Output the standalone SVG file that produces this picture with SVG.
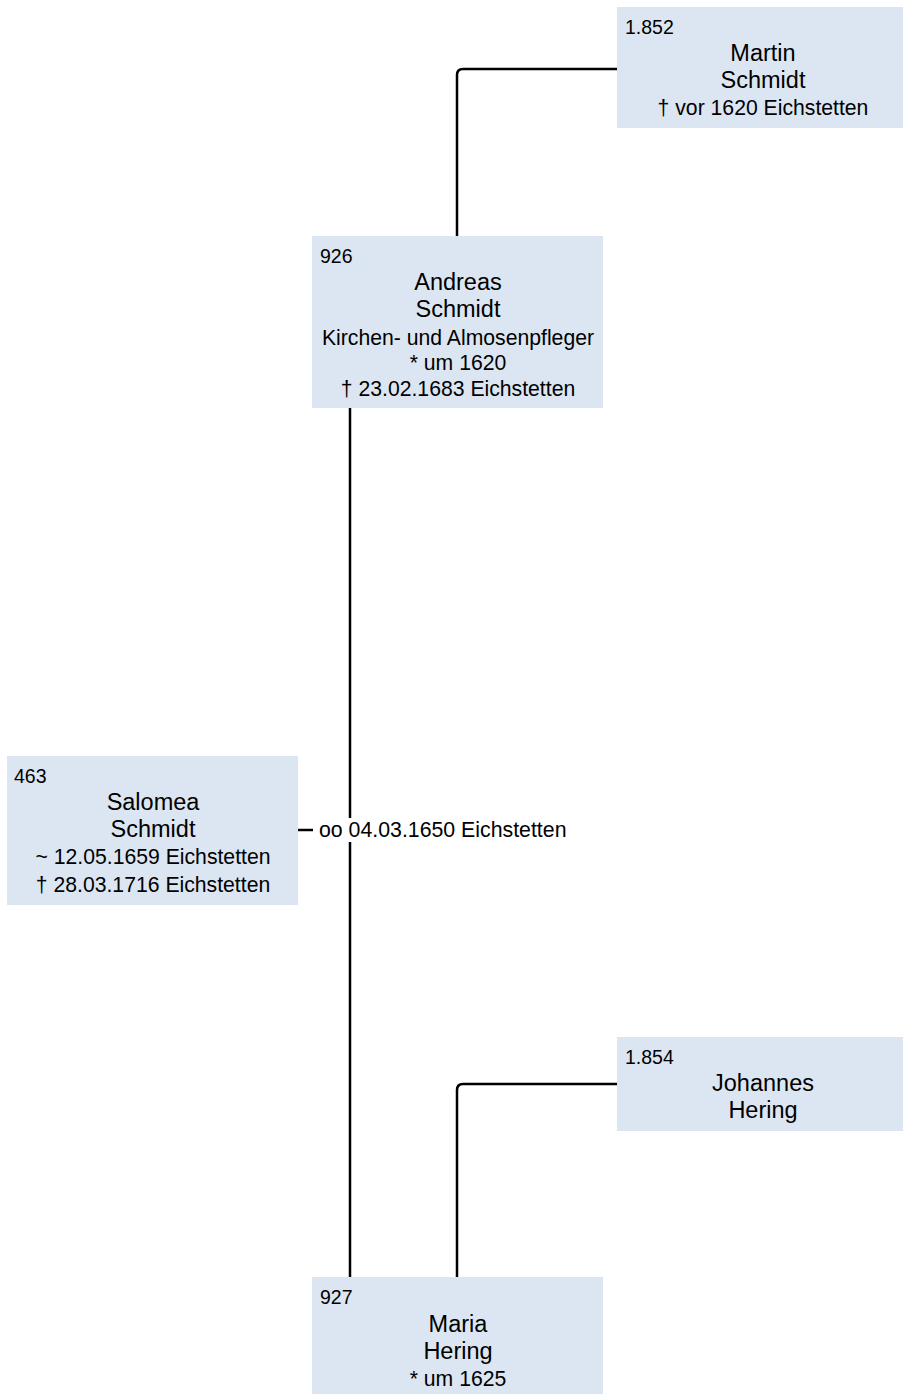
<svg xmlns="http://www.w3.org/2000/svg" width="903" height="1394" viewBox="0 0 903 1394">
<style>
.box{fill:#dce6f2;}
.num{font-family:"Liberation Sans",Arial,sans-serif;font-size:19.5px;fill:#000;}
.name{font-family:"Liberation Sans",Arial,sans-serif;font-size:23.5px;fill:#000;text-anchor:middle;}
.det{font-family:"Liberation Sans",Arial,sans-serif;font-size:21.2px;fill:#000;text-anchor:middle;}
.lbl{font-family:"Liberation Sans",Arial,sans-serif;font-size:21.3px;fill:#000;}
.con{fill:none;stroke:#000;stroke-width:2.5;}
</style>
<rect width="903" height="1394" fill="#fff"/>
<g id="connectors">
<path class="con" d="M617,69 H463 Q457,69 457,75 V236"/>
<path class="con" d="M350,408 V818"/>
<path class="con" d="M350,842 V1277"/>
<path class="con" d="M298,830 H313"/>
<path class="con" d="M617,1084 H463 Q457,1084 457,1090 V1277"/>
<text class="lbl" x="319" y="837">oo 04.03.1650 Eichstetten</text>
</g>
<g id="n1852">
<rect class="box" x="617" y="7" width="292" height="121"/>
<text class="num" x="625" y="34">1.852</text>
<text class="name" x="763" y="61">Martin</text>
<text class="name" x="763" y="88">Schmidt</text>
<text class="det" x="763" y="115">† vor 1620 Eichstetten</text>
</g>
<g id="n926">
<rect class="box" x="312" y="236" width="291" height="172"/>
<text class="num" x="320" y="263">926</text>
<text class="name" x="458" y="290">Andreas</text>
<text class="name" x="458" y="317">Schmidt</text>
<text class="det" x="458" y="345">Kirchen- und Almosenpfleger</text>
<text class="det" x="458" y="370">* um 1620</text>
<text class="det" x="458" y="396">† 23.02.1683 Eichstetten</text>
</g>
<g id="n463">
<rect class="box" x="7" y="756" width="291" height="149"/>
<text class="num" x="14" y="783">463</text>
<text class="name" x="153" y="810">Salomea</text>
<text class="name" x="153" y="837">Schmidt</text>
<text class="det" x="153" y="864">~ 12.05.1659 Eichstetten</text>
<text class="det" x="153" y="892">† 28.03.1716 Eichstetten</text>
</g>
<g id="n1854">
<rect class="box" x="617" y="1037" width="292" height="94"/>
<text class="num" x="625" y="1064">1.854</text>
<text class="name" x="763" y="1091">Johannes</text>
<text class="name" x="763" y="1118">Hering</text>
</g>
<g id="n927">
<rect class="box" x="312" y="1277" width="291" height="117"/>
<text class="num" x="320" y="1304">927</text>
<text class="name" x="458" y="1332">Maria</text>
<text class="name" x="458" y="1359">Hering</text>
<text class="det" x="458" y="1386">* um 1625</text>
</g>
</svg>
